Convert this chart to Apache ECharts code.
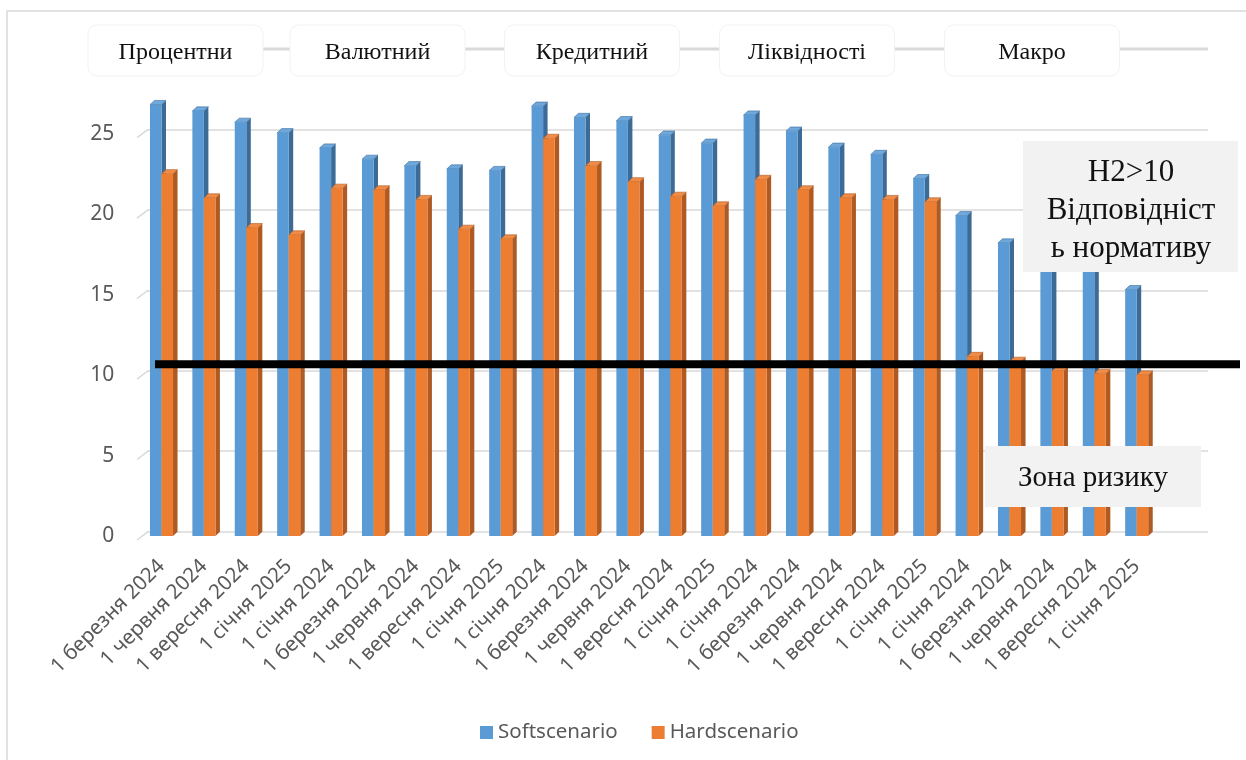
<!DOCTYPE html>
<html>
<head>
<meta charset="utf-8">
<script src="https://cdn.jsdelivr.net/npm/echarts@6/dist/echarts.min.js"></script>
<style>
  html, body { margin: 0; padding: 0; background: #ffffff; }
  #chart { width: 1246px; height: 760px; }
</style>
</head>
<body>
<div id="chart"></div>
<script>
// Category labels (dates), five groups of stress tests
const categories = [
  '1 березня 2024', '1 червня 2024', '1 вересня 2024', '1 січня 2025',
  '1 січня 2024', '1 березня 2024', '1 червня 2024', '1 вересня 2024', '1 січня 2025',
  '1 січня 2024', '1 березня 2024', '1 червня 2024', '1 вересня 2024', '1 січня 2025',
  '1 січня 2024', '1 березня 2024', '1 червня 2024', '1 вересня 2024', '1 січня 2025',
  '1 січня 2024', '1 березня 2024', '1 червня 2024', '1 вересня 2024', '1 січня 2025'
];

const softScenario = [
  26.8, 26.4, 25.7, 25.05,
  24.1, 23.4, 23.0, 22.8, 22.7,
  26.7, 26.0, 25.8, 24.9, 24.4,
  26.15, 25.15, 24.15, 23.7, 22.2,
  19.9, 18.2, 17.1, 16.5, 15.3
];

const hardScenario = [
  22.5, 21.0, 19.15, 18.7,
  21.6, 21.5, 20.9, 19.05, 18.45,
  24.7, 23.0, 22.0, 21.1, 20.5,
  22.15, 21.5, 21.0, 20.9, 20.75,
  11.15, 10.85, 10.25, 10.1, 10.0
];

const seriesNames = ['Softscenario', 'Hardscenario'];
const yTicks = [0, 5, 10, 15, 20, 25];

// Risk group headers above the bars
const riskGroups = ['Процентни', 'Валютний', 'Кредитний', 'Ліквідності', 'Макро'];

// Level of the regulatory threshold line (H2 > 10)
const normLevel = 10.4;

const chart = echarts.init(document.getElementById('chart'), null, { renderer: 'canvas' });

const BLUE = { front: '#5b9bd5', side: '#3c6b98', top: '#6fa8dc' };
const ORANGE = { front: '#ed7d31', side: '#ae5a22', top: '#f08c47' };
const DEPTH_X = 4.5, DEPTH_Y = 4.2, BAR_FRAC = 0.272;

// Pseudo-3D column: front face, right side face and top face
function columnRenderer(side, palette) {
  return function (params, api) {
    const idx = api.value(0);
    const val = api.value(1);
    const base = api.coord([idx, 0]);
    const tip = api.coord([idx, val]);
    const band = api.size([1, 0])[0];
    const w = band * BAR_FRAC;
    const left = side < 0 ? base[0] - w : base[0];
    const right = left + w;
    return {
      type: 'group',
      children: [
        {
          type: 'polygon',
          shape: { points: [[right, tip[1]], [right + DEPTH_X, tip[1] - DEPTH_Y], [right + DEPTH_X, base[1] - DEPTH_Y], [right, base[1]]] },
          style: { fill: palette.side }
        },
        {
          type: 'polygon',
          shape: { points: [[left, tip[1]], [left + DEPTH_X, tip[1] - DEPTH_Y], [right + DEPTH_X, tip[1] - DEPTH_Y], [right, tip[1]]] },
          style: { fill: palette.top, stroke: palette.side, lineWidth: 0.6 }
        },
        {
          type: 'rect',
          shape: { x: left, y: tip[1], width: w, height: base[1] - tip[1] },
          style: { fill: palette.front }
        }
      ]
    };
  };
}

const axisTextColor = '#595959';

const option = {
  backgroundColor: '#ffffff',
  animation: false,
  legend: {
    left: 475,
    top: 717,
    itemWidth: 13,
    itemHeight: 13,
    itemGap: 34,
    icon: 'rect',
    textStyle: { color: axisTextColor, fontSize: 20.5, fontFamily: 'Noto Sans' },
    data: [
      { name: seriesNames[0], itemStyle: { color: BLUE.front } },
      { name: seriesNames[1], itemStyle: { color: ORANGE.front } }
    ]
  },
  grid: [
    // front plane: columns and axis labels
    { left: 140.3, right: 88.1, top: 133.6, bottom: 224 },
    // back wall: gridlines
    { left: 147, right: 38, top: 129.3, bottom: 228.3 }
  ],
  xAxis: [
    {
      type: 'category',
      gridIndex: 0,
      data: categories,
      axisLine: { show: false },
      axisTick: { show: false },
      axisLabel: {
        interval: 0,
        rotate: 45,
        margin: 27,
        color: axisTextColor,
        fontSize: 20.5,
        fontFamily: 'Noto Sans'
      }
    },
    { type: 'value', gridIndex: 1, show: false, min: 0, max: 1 }
  ],
  yAxis: [
    {
      type: 'value',
      gridIndex: 0,
      min: yTicks[0],
      max: yTicks[yTicks.length - 1],
      interval: 5,
      axisLine: { show: false },
      axisTick: { show: false },
      splitLine: { show: false },
      axisLabel: {
        margin: 26, color: axisTextColor, fontSize: 21, fontFamily: 'Noto Sans',
        padding: [8, 0, 0, 0]
      }
    },
    {
      type: 'value',
      gridIndex: 1,
      min: yTicks[0],
      max: yTicks[yTicks.length - 1],
      interval: 5,
      axisLine: { show: false },
      axisTick: { show: false },
      axisLabel: { show: false },
      splitLine: { show: true, lineStyle: { color: '#d9d9d9', width: 1.5 } }
    }
  ],
  series: [
    {
      name: seriesNames[0],
      type: 'custom',
      xAxisIndex: 0,
      yAxisIndex: 0,
      clip: false,
      itemStyle: { color: BLUE.front },
      encode: { x: 0, y: 1 },
      renderItem: columnRenderer(-1, BLUE),
      data: softScenario.map((v, i) => [i, v])
    },
    {
      name: seriesNames[1],
      type: 'custom',
      xAxisIndex: 0,
      yAxisIndex: 0,
      clip: false,
      itemStyle: { color: ORANGE.front },
      encode: { x: 0, y: 1 },
      renderItem: columnRenderer(1, ORANGE),
      data: hardScenario.map((v, i) => [i, v])
    }
  ]
};

chart.setOption(option);

// Overlays: chart frame, group header boxes, wall edges, threshold line and notes
const headerCenters = [175.5, 377.5, 592, 807, 1032];
const headerW = 175, headerTop = 25, headerH = 51, connectorY = 49;
const serifFont = '"Liberation Serif", "DejaVu Serif", serif';

const graphics = [
  {
    type: 'rect', z: 0, silent: true,
    shape: { x: 7, y: 11, width: 1300, height: 800 },
    style: { fill: 'none', stroke: '#d9d9d9', lineWidth: 1.5 }
  }
];

// short slanted joins between the front axis and the back-wall gridlines
yTicks.forEach((t) => {
  const yFront = chart.convertToPixel({ yAxisIndex: 0 }, t);
  const yBack = chart.convertToPixel({ yAxisIndex: 1 }, t);
  graphics.push({
    type: 'line', z: 1, silent: true,
    shape: { x1: 137, y1: yFront + 4, x2: 148, y2: yBack },
    style: { stroke: '#d9d9d9', lineWidth: 1.5 }
  });
});

headerCenters.forEach((cx, i) => {
  const nextLeft = i < headerCenters.length - 1 ? headerCenters[i + 1] - headerW / 2 : 1208;
  graphics.push({
    type: 'line', z: 1, silent: true,
    shape: { x1: cx + headerW / 2, y1: connectorY, x2: nextLeft, y2: connectorY },
    style: { stroke: '#d9d9d9', lineWidth: 3 }
  });
  graphics.push({
    type: 'rect', z: 2, silent: true,
    shape: { x: cx - headerW / 2, y: headerTop, width: headerW, height: headerH, r: 9 },
    style: { fill: '#ffffff', stroke: '#f2f2f2', lineWidth: 1 }
  });
  graphics.push({
    type: 'text', z: 3, silent: true,
    x: cx, y: headerTop + headerH / 2 + 2,
    style: { text: riskGroups[i], fill: '#111111', font: '24px ' + serifFont, align: 'center', verticalAlign: 'middle' }
  });
});

const normY = chart.convertToPixel({ yAxisIndex: 1 }, normLevel);
graphics.push({
  type: 'line', z: 50, silent: true,
  shape: { x1: 155, y1: normY, x2: 1240, y2: normY },
  style: { stroke: '#000000', lineWidth: 8 }
});

graphics.push({
  type: 'rect', z: 60, silent: true,
  shape: { x: 1023, y: 141, width: 215, height: 131 },
  style: { fill: '#f2f2f2' }
});
graphics.push({
  type: 'text', z: 61, silent: true,
  x: 1131, y: 211,
  style: {
    text: 'Н2>10\nВідповідніст\nь нормативу',
    fill: '#111111', font: '31px ' + serifFont, lineHeight: 38,
    align: 'center', verticalAlign: 'middle'
  }
});

graphics.push({
  type: 'rect', z: 60, silent: true,
  shape: { x: 985, y: 446, width: 216, height: 61 },
  style: { fill: '#f2f2f2' }
});
graphics.push({
  type: 'text', z: 61, silent: true,
  x: 1093, y: 478,
  style: { text: 'Зона ризику', fill: '#111111', font: '29px ' + serifFont, align: 'center', verticalAlign: 'middle' }
});

chart.setOption({ graphic: graphics });
</script>
</body>
</html>
